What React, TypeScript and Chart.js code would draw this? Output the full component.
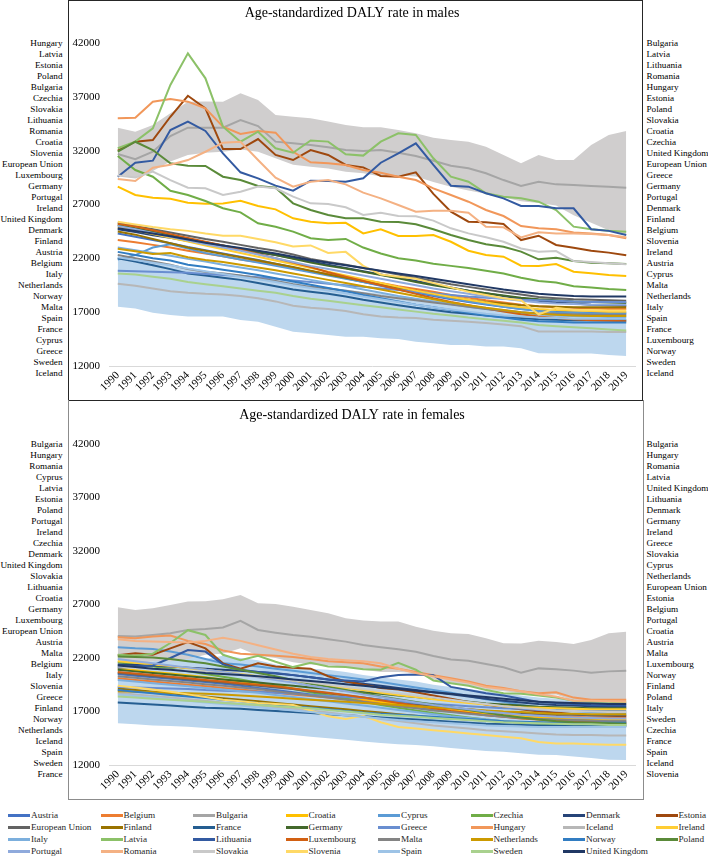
import { useEffect, useRef } from 'react';
import { Chart, registerables } from 'chart.js';

Chart.register(...registerables);

const serif = '"Liberation Serif", "Times New Roman", Times, serif';

const years = ['1990', '1991', '1992', '1993', '1994', '1995', '1996', '1997', '1998', '1999', '2000', '2001', '2002', '2003', '2004', '2005', '2006', '2007', '2008', '2009', '2010', '2011', '2012', '2013', '2014', '2015', '2016', '2017', '2018', '2019'];

const countries = ['Austria', 'Belgium', 'Bulgaria', 'Croatia', 'Cyprus', 'Czechia', 'Denmark', 'Estonia', 'European Union', 'Finland', 'France', 'Germany', 'Greece', 'Hungary', 'Iceland', 'Ireland', 'Italy', 'Latvia', 'Lithuania', 'Luxembourg', 'Malta', 'Netherlands', 'Norway', 'Poland', 'Portugal', 'Romania', 'Slovakia', 'Slovenia', 'Spain', 'Sweden', 'United Kingdom'];

const colors = ['#4472C4', '#ED7D31', '#A5A5A5', '#FFC000', '#5B9BD5', '#70AD47', '#264478', '#9E480E', '#636363', '#997300', '#255E91', '#43682B', '#698ED0', '#F1975A', '#B7B7B7', '#FFCD33', '#7CAFDD', '#8CC168', '#335AA1', '#D26012', '#848484', '#CC9A00', '#327DC2', '#5A8A39', '#8FAADC', '#F4B183', '#C9C9C9', '#FFD966', '#9DC3E6', '#A9D18E', '#203864'];

// males
const mAustria = [24300, 24000, 23700, 23400, 23050, 22750, 22450, 22150, 21850, 21500, 21150, 20800, 20500, 20150, 19800, 19450, 19100, 18800, 18500, 18200, 17950, 17700, 17500, 17300, 17150, 17050, 17000, 16950, 16950, 16950];
const mBelgium = [23700, 23500, 23250, 23000, 22700, 22450, 22200, 21900, 21650, 21400, 21100, 20800, 20550, 20300, 20000, 19700, 19400, 19150, 18900, 18600, 18350, 18100, 17900, 17700, 17550, 17450, 17400, 17350, 17300, 17300];
const mBulgaria = [31690, 31200, 31900, 33360, 34140, 34140, 34140, 34850, 34290, 32840, 32680, 32530, 32310, 32060, 31970, 32060, 31810, 31500, 31070, 30600, 30360, 29900, 29270, 28720, 29120, 28870, 28810, 28720, 28660, 28560];
const mCroatia = [28660, 27880, 27630, 27540, 27170, 27080, 27100, 27350, 26860, 26550, 25720, 25400, 25250, 25300, 24320, 24700, 24070, 24070, 24170, 23540, 22710, 22310, 22150, 21320, 21290, 21470, 20760, 20610, 20460, 20370];
const mCyprus = [21900, 22300, 23000, 23300, 22900, 22500, 22200, 21900, 21600, 21300, 21000, 20700, 20400, 20100, 19800, 19500, 19200, 18900, 18600, 18300, 18000, 17750, 17500, 17300, 17100, 17000, 16950, 16900, 16850, 16850];
const mCzechia = [31500, 30200, 29580, 28280, 27880, 27320, 26650, 26270, 25250, 24940, 24480, 23860, 23700, 23800, 23000, 22450, 22000, 21800, 21500, 21300, 21100, 20850, 20600, 20200, 19900, 19750, 19400, 19300, 19150, 19060];
const mDenmark = [24700, 24450, 24150, 23900, 23600, 23300, 23050, 22800, 22550, 22300, 22000, 21700, 21400, 21100, 20800, 20500, 20200, 19900, 19600, 19300, 19000, 18750, 18500, 18250, 18050, 17900, 17800, 17700, 17650, 17600];
const mEstonia = [32000, 32830, 32990, 35150, 37100, 35930, 32150, 32150, 33080, 31600, 31130, 32060, 31600, 30670, 30450, 29650, 29580, 29990, 27980, 26330, 25400, 25340, 25190, 23700, 24100, 23240, 22990, 22710, 22530, 22280];
const mEU = [25300, 25000, 24700, 24400, 24100, 23800, 23550, 23250, 22950, 22700, 22350, 21950, 21650, 21400, 21100, 20800, 20500, 20200, 19900, 19600, 19350, 19100, 18850, 18650, 18400, 18300, 18200, 18150, 18100, 18050];
const mFinland = [24500, 24200, 23800, 23400, 23000, 22700, 22400, 22100, 21800, 21500, 21200, 20850, 20500, 20200, 19900, 19600, 19300, 19000, 18700, 18400, 18150, 17950, 17800, 17650, 17550, 17500, 17450, 17450, 17450, 17450];
const mFrance = [22000, 21700, 21350, 21000, 20600, 20400, 20200, 20000, 19700, 19400, 19100, 18900, 18700, 18450, 18150, 17900, 17650, 17400, 17200, 17000, 16850, 16700, 16550, 16450, 16350, 16300, 16250, 16250, 16250, 16250];
const mGermany = [25100, 24800, 24500, 24150, 23800, 23500, 23200, 22900, 22600, 22300, 21950, 21600, 21300, 21050, 20750, 20450, 20150, 19800, 19500, 19250, 19000, 18750, 18550, 18350, 18200, 18100, 18000, 17950, 17900, 17850];
const mGreece = [20850, 20800, 20750, 20700, 20650, 20550, 20450, 20350, 20250, 20100, 19950, 19800, 19650, 19500, 19350, 19200, 19050, 18900, 18750, 18600, 18450, 18350, 18250, 18150, 18100, 18050, 18000, 17950, 17950, 17950];
const mHungary = [35000, 35060, 36550, 36800, 36550, 35930, 34230, 33550, 33830, 33670, 31900, 30920, 30820, 30670, 30200, 29950, 29580, 29270, 28500, 27880, 27260, 26490, 25930, 25000, 24790, 24700, 24390, 24300, 24170, 23860];
const mIceland = [19650, 19450, 19200, 18950, 18800, 18700, 18650, 18500, 18300, 18000, 17600, 17400, 17300, 17100, 16800, 16600, 16500, 16450, 16300, 16200, 16100, 16000, 15850, 15700, 15200, 15200, 15200, 15200, 15150, 15150];
const mIreland = [24900, 24600, 24250, 23900, 23550, 23200, 22850, 22500, 22150, 21800, 21450, 21100, 20750, 20400, 20050, 19700, 19350, 19000, 18700, 18400, 18150, 17900, 17650, 17450, 17300, 17200, 17150, 17100, 17050, 17050];
const mItaly = [23000, 22750, 22500, 22250, 21950, 21700, 21400, 21150, 20900, 20600, 20300, 20000, 19700, 19400, 19100, 18800, 18500, 18250, 18000, 17750, 17500, 17300, 17100, 16950, 16800, 16700, 16650, 16600, 16550, 16550];
const mLatvia = [32220, 32840, 34080, 38100, 41040, 38720, 34230, 32830, 33760, 32220, 31810, 32950, 32840, 31660, 31540, 32840, 33610, 33460, 31290, 29580, 29120, 28040, 27730, 27570, 27260, 26490, 24940, 24700, 24570, 24480];
const mLithuania = [29580, 30880, 31070, 33920, 34700, 33830, 31750, 29990, 29430, 28750, 28280, 29210, 29180, 29120, 29430, 30880, 31750, 32680, 30670, 28750, 28660, 28040, 27570, 26860, 26860, 26650, 26650, 24700, 24550, 24170];
const mLuxembourg = [25200, 24950, 24600, 24250, 23900, 23550, 23200, 22800, 22400, 22000, 21600, 21200, 20700, 20300, 19900, 19500, 19100, 18700, 18300, 17950, 17650, 17350, 17050, 16800, 16600, 16450, 16350, 16250, 16200, 16150];
const mMalta = [22300, 22000, 21700, 21400, 21000, 20750, 20600, 20400, 20150, 19900, 19600, 19350, 19200, 19000, 18750, 18500, 18300, 18100, 17900, 17700, 17500, 17300, 17150, 17000, 16900, 16850, 16800, 16750, 16750, 16750];
const mNetherlands = [22900, 22650, 22400, 22500, 22100, 21850, 21650, 21400, 21150, 20900, 20600, 20300, 20000, 19700, 19400, 19100, 18800, 18500, 18200, 17900, 17650, 17400, 17200, 17000, 16850, 16750, 16700, 16650, 16650, 16650];
const mNorway = [22600, 22300, 22000, 21800, 21400, 21200, 20950, 20700, 20450, 20150, 19850, 19550, 19250, 18950, 18600, 18300, 18000, 17700, 17450, 17200, 16950, 16700, 16500, 16300, 16150, 16100, 16050, 16050, 16050, 16050];
const mPoland = [31900, 32830, 32060, 30830, 30600, 30580, 29580, 29270, 28720, 28560, 27110, 26490, 26030, 25720, 25720, 25400, 25370, 25160, 24700, 24170, 23700, 23300, 23080, 22620, 21910, 22060, 21750, 21600, 21550, 21470];
const mPortugal = [25000, 24700, 24350, 24000, 23650, 23300, 23000, 22700, 22350, 22000, 21650, 21300, 21000, 20700, 20400, 20100, 19800, 19500, 19200, 18950, 18700, 18450, 18250, 18050, 17900, 17800, 17750, 17700, 17700, 17700];
const mRomania = [29370, 29180, 30420, 30700, 31130, 31900, 32740, 32830, 31130, 29490, 28660, 29120, 29270, 28870, 28100, 27570, 26950, 26330, 26420, 26420, 26240, 24940, 24880, 23950, 24420, 24300, 24300, 24250, 24170, 23950];
const mSlovakia = [29700, 29500, 30050, 29270, 28560, 28500, 27880, 28190, 28660, 28500, 27730, 27110, 27050, 26740, 26030, 26240, 25930, 25900, 25500, 24790, 24320, 23950, 23540, 22920, 22620, 22680, 21750, 21650, 21540, 21440];
const mSlovenia = [25400, 25150, 24900, 24700, 24550, 24300, 24100, 24100, 23800, 23500, 23100, 23200, 22500, 22600, 21300, 20500, 20300, 20100, 19700, 19300, 18900, 18600, 18300, 18100, 16800, 17400, 17200, 17200, 17150, 17150];
const mSpain = [22100, 21850, 21600, 21350, 21050, 20800, 20550, 20300, 20050, 19800, 19500, 19250, 19000, 18750, 18450, 18200, 17950, 17700, 17450, 17250, 17050, 16850, 16700, 16600, 16500, 16450, 16400, 16400, 16400, 16400];
const mSweden = [20600, 20500, 20300, 20100, 19800, 19600, 19400, 19200, 19000, 18800, 18500, 18250, 18050, 17850, 17650, 17450, 17250, 17050, 16850, 16700, 16500, 16350, 16200, 16050, 15800, 15700, 15600, 15500, 15400, 15300];
const mUK = [24800, 24550, 24300, 24050, 23750, 23450, 23200, 22950, 22700, 22450, 22150, 21850, 21600, 21350, 21100, 20850, 20600, 20350, 20100, 19850, 19600, 19350, 19100, 18900, 18700, 18600, 18500, 18450, 18450, 18450];

const maleGrayHigh = [34140, 33760, 34380, 35470, 36550, 36570, 36550, 37330, 36710, 35310, 35160, 35000, 34700, 34380, 34170, 34170, 33920, 33610, 33210, 32990, 32830, 32370, 31600, 30830, 31600, 31130, 31130, 32530, 33460, 33830];
const maleGrayLow = [29800, 29500, 30100, 31000, 31600, 31800, 31900, 32100, 31900, 31300, 30700, 30500, 30350, 30050, 29900, 29600, 29700, 29600, 29100, 28650, 28300, 28000, 27650, 27300, 27150, 26900, 26000, 25300, 24600, 24100];
const maleBlueHigh = [22200, 21900, 21600, 21300, 21000, 20800, 20700, 20500, 20300, 20100, 19800, 19500, 19300, 19100, 18900, 18700, 18500, 18300, 18100, 17900, 17700, 17500, 17300, 17100, 16800, 16700, 16600, 16500, 16400, 16300];
const maleBlueLow = [17510, 17350, 16950, 16740, 16590, 16590, 16590, 16270, 16120, 15650, 15190, 15040, 14880, 14720, 14720, 14570, 14500, 14260, 14110, 13950, 13950, 13800, 13800, 13640, 13180, 13150, 13150, 13150, 13020, 12930];

// females
const fAustria = [20500, 20350, 20200, 20050, 19900, 19750, 19600, 19400, 19200, 19000, 18800, 18600, 18400, 18200, 18000, 17800, 17600, 17400, 17200, 17000, 16850, 16700, 16550, 16450, 16350, 16300, 16250, 16200, 16150, 16150];
const fBelgium = [20100, 19950, 19800, 19650, 19500, 19350, 19200, 19050, 18900, 18750, 18600, 18450, 18300, 18150, 18000, 17850, 17700, 17550, 17400, 17250, 17100, 16950, 16800, 16700, 16600, 16550, 16500, 16450, 16450, 16450];
const fBulgaria = [24050, 24000, 24150, 24310, 24620, 24700, 24860, 25480, 24620, 24370, 24150, 23990, 23750, 23530, 23220, 23000, 22810, 22590, 22190, 21870, 21750, 21440, 21130, 20630, 21030, 20950, 20820, 20630, 20750, 20820];
const fCroatia = [21000, 20850, 20700, 20550, 20400, 20200, 20000, 19800, 19600, 19400, 19150, 18900, 18650, 18400, 18150, 17900, 17700, 17500, 17300, 17100, 16950, 16800, 16650, 16550, 16450, 16400, 16350, 16300, 16250, 16250];
const fCyprus = [23000, 22900, 22850, 22600, 22300, 21900, 21500, 21400, 21200, 21000, 20800, 20600, 20400, 20200, 20000, 19750, 19500, 19250, 19000, 18750, 18450, 18150, 17900, 17600, 17400, 17200, 17050, 16950, 16900, 16850];
const fCzechia = [21600, 21400, 21200, 21000, 20750, 20500, 20250, 20000, 19700, 19400, 19100, 18800, 18500, 18200, 17900, 17600, 17350, 17100, 16850, 16650, 16450, 16250, 16100, 15950, 15850, 15800, 15750, 15700, 15700, 15700];
const fDenmark = [21400, 21350, 21300, 21200, 21100, 21000, 20900, 20800, 20700, 20550, 20400, 20200, 20000, 19800, 19600, 19400, 19200, 19000, 18800, 18600, 18400, 18200, 18000, 17850, 17700, 17600, 17550, 17500, 17450, 17450];
const fEstonia = [22250, 22450, 22300, 22900, 23500, 22900, 21500, 21000, 21500, 21200, 21100, 21000, 20300, 19800, 19500, 19200, 19050, 18800, 18500, 18200, 17900, 17650, 17400, 17200, 17000, 16900, 16750, 16650, 16600, 16550];
const fEU = [20600, 20450, 20300, 20150, 20000, 19850, 19700, 19550, 19400, 19250, 19100, 18900, 18700, 18500, 18300, 18100, 17900, 17700, 17500, 17350, 17200, 17050, 16950, 16850, 16750, 16700, 16700, 16650, 16650, 16650];
const fFinland = [19150, 19000, 18850, 18700, 18550, 18400, 18250, 18100, 17950, 17800, 17650, 17500, 17350, 17200, 17050, 16900, 16750, 16600, 16450, 16350, 16250, 16150, 16050, 16000, 15950, 15950, 15900, 15900, 15900, 15900];
const fFrance = [17850, 17750, 17650, 17550, 17450, 17350, 17300, 17250, 17150, 17050, 16950, 16850, 16750, 16650, 16550, 16450, 16350, 16250, 16150, 16050, 15950, 15850, 15800, 15750, 15700, 15700, 15650, 15650, 15650, 15650];
const fGermany = [20900, 20750, 20600, 20450, 20300, 20150, 20000, 19850, 19700, 19550, 19400, 19250, 19100, 18950, 18800, 18650, 18500, 18350, 18200, 18050, 17900, 17750, 17650, 17550, 17450, 17400, 17350, 17300, 17300, 17300];
const fGreece = [19300, 19250, 19200, 19150, 19100, 19000, 18950, 18900, 18850, 18750, 18650, 18550, 18450, 18350, 18250, 18100, 17950, 17800, 17700, 17600, 17500, 17400, 17300, 17250, 17150, 17100, 17100, 17050, 17050, 17050];
const fHungary = [23950, 23850, 24000, 24100, 23600, 23300, 22700, 22400, 22300, 22200, 22100, 21900, 21700, 21600, 21500, 21200, 21000, 20700, 20400, 20100, 19800, 19400, 19200, 18900, 18700, 18800, 18300, 18100, 18100, 18100];
const fIceland = [18750, 18600, 18450, 18300, 18150, 18000, 17850, 17700, 17550, 17400, 17250, 17100, 16900, 16700, 16500, 16300, 16100, 15900, 15700, 15550, 15400, 15250, 15150, 15050, 14950, 14850, 14800, 14800, 14750, 14750];
const fIreland = [21700, 21550, 21400, 21250, 21050, 20900, 20700, 20500, 20300, 20100, 19850, 19600, 19400, 19200, 19000, 18750, 18550, 18350, 18150, 17950, 17800, 17650, 17500, 17400, 17350, 17300, 17250, 17200, 17200, 17200];
const fItaly = [19950, 19800, 19650, 19500, 19350, 19200, 19050, 18900, 18750, 18550, 18350, 18150, 17950, 17750, 17550, 17350, 17150, 16950, 16750, 16550, 16400, 16250, 16100, 16000, 15950, 15900, 15850, 15800, 15800, 15800];
const fLatvia = [22300, 22200, 22400, 23400, 24600, 24150, 22300, 21800, 22200, 21650, 21150, 21550, 21200, 21150, 20950, 20900, 21550, 20900, 19900, 19650, 19400, 19000, 18700, 18650, 18500, 18300, 18000, 17900, 17900, 17850];
const fLithuania = [21100, 21200, 21300, 22000, 22750, 22600, 21400, 20900, 20700, 20600, 20400, 20200, 20000, 19900, 19800, 20200, 20400, 20450, 20400, 19300, 19000, 18700, 18500, 18200, 17900, 17800, 17700, 17600, 17550, 17550];
const fLuxembourg = [20700, 20550, 20400, 20250, 20100, 19950, 19800, 19650, 19500, 19350, 19150, 18950, 18750, 18550, 18300, 18050, 17800, 17550, 17300, 17050, 16850, 16650, 16500, 16350, 16250, 16150, 16100, 16050, 16000, 16000];
const fMalta = [20300, 20150, 20000, 19850, 19700, 19550, 19400, 19250, 19100, 18900, 18700, 18500, 18300, 18100, 17900, 17700, 17500, 17300, 17100, 16950, 16800, 16650, 16500, 16400, 16300, 16250, 16200, 16150, 16100, 16100];
const fNetherlands = [18900, 18850, 18800, 18750, 18700, 18650, 18600, 18500, 18400, 18300, 18200, 18100, 18000, 17900, 17800, 17700, 17600, 17500, 17400, 17300, 17200, 17100, 17000, 16950, 16850, 16800, 16800, 16750, 16750, 16750];
const fNorway = [19000, 18850, 18700, 18550, 18400, 18250, 18100, 17950, 17800, 17650, 17500, 17350, 17200, 17050, 16900, 16800, 16700, 16600, 16500, 16400, 16300, 16200, 16100, 16050, 16000, 15950, 15950, 15950, 15950, 15950];
const fPoland = [22150, 22100, 22050, 21900, 21700, 21500, 21200, 20900, 20600, 20300, 19950, 19600, 19300, 19000, 18700, 18400, 18150, 17900, 17650, 17400, 17150, 16900, 16650, 16450, 16250, 16100, 16000, 15950, 15900, 15850];
const fPortugal = [21900, 21700, 21500, 21300, 21100, 20900, 20700, 20450, 20200, 19950, 19700, 19400, 19150, 18900, 18600, 18350, 18100, 17850, 17600, 17400, 17200, 17000, 16850, 16700, 16600, 16500, 16450, 16400, 16350, 16350];
const fRomania = [23750, 23600, 23550, 23500, 23450, 23600, 23900, 23600, 23200, 22800, 22400, 22100, 21900, 21800, 21700, 21500, 21000, 20600, 20300, 20000, 19700, 19300, 19100, 18900, 18600, 18400, 18000, 18000, 17950, 17900];
const fSlovakia = [21200, 21100, 21000, 20900, 20800, 20700, 20550, 20400, 20250, 20100, 19900, 19700, 19500, 19300, 19100, 18900, 18700, 18500, 18300, 18100, 17900, 17700, 17500, 17350, 17200, 17100, 17050, 17000, 16950, 16950];
const fSlovenia = [19400, 19250, 19050, 18850, 18600, 18350, 18100, 17950, 17800, 17700, 17600, 17100, 16550, 16300, 16600, 16000, 15550, 15400, 15250, 15100, 14950, 14800, 14650, 14500, 14150, 14000, 14000, 13950, 13900, 13900];
const fSpain = [18600, 18450, 18300, 18150, 18000, 17850, 17700, 17550, 17400, 17250, 17100, 16950, 16800, 16650, 16500, 16350, 16200, 16100, 16000, 15900, 15800, 15700, 15650, 15600, 15550, 15550, 15550, 15550, 15550, 15550];
const fSweden = [18400, 18300, 18200, 18100, 18000, 17900, 17800, 17700, 17600, 17500, 17400, 17300, 17150, 17000, 16850, 16700, 16600, 16500, 16400, 16300, 16200, 16100, 16000, 15950, 15900, 15850, 15800, 15800, 15750, 15750];
const fUK = [21300, 21150, 21000, 20900, 20750, 20600, 20500, 20400, 20300, 20150, 20000, 19850, 19700, 19550, 19400, 19250, 19100, 18950, 18800, 18650, 18500, 18350, 18200, 18050, 17900, 17850, 17800, 17750, 17700, 17700];

const femaleGrayHigh = [26740, 26490, 26640, 26960, 27270, 27300, 27490, 27890, 27110, 27050, 26800, 26490, 26180, 25710, 25500, 25400, 25400, 24930, 24550, 24310, 24250, 23840, 23370, 23350, 23620, 23500, 23310, 23680, 24310, 24460];
const femaleGrayLow = [21300, 21500, 21700, 21700, 21900, 22300, 22400, 22900, 22200, 22000, 21600, 21400, 21300, 21200, 20900, 20700, 20700, 20600, 20000, 19700, 19400, 19000, 18900, 18700, 18500, 18600, 18000, 18000, 18000, 18000];
const femaleBlueHigh = [21800, 21700, 21700, 21900, 22100, 21900, 22200, 22000, 21800, 21400, 21100, 21000, 20900, 20700, 20400, 20200, 20000, 19800, 19500, 19300, 19100, 18900, 18700, 18500, 18300, 18200, 18100, 18000, 17900, 17900];
const femaleBlueLow = [15900, 15800, 15700, 15650, 15580, 15450, 15350, 15250, 15110, 14950, 14800, 14650, 14490, 14350, 14200, 14050, 13950, 13870, 13750, 13600, 13450, 13300, 13240, 13100, 12950, 12930, 12800, 12650, 12500, 12470];

// rank lists printed beside each panel (first and last year)
const maleLeft = ['Hungary', 'Latvia', 'Estonia', 'Poland', 'Bulgaria', 'Czechia', 'Slovakia', 'Lithuania', 'Romania', 'Croatia', 'Slovenia', 'European Union', 'Luxembourg', 'Germany', 'Portugal', 'Ireland', 'United Kingdom', 'Denmark', 'Finland', 'Austria', 'Belgium', 'Italy', 'Netherlands', 'Norway', 'Malta', 'Spain', 'France', 'Cyprus', 'Greece', 'Sweden', 'Iceland'];
const maleRight = ['Bulgaria', 'Latvia', 'Lithuania', 'Romania', 'Hungary', 'Estonia', 'Poland', 'Slovakia', 'Croatia', 'Czechia', 'United Kingdom', 'European Union', 'Greece', 'Germany', 'Portugal', 'Denmark', 'Finland', 'Belgium', 'Slovenia', 'Ireland', 'Austria', 'Cyprus', 'Malta', 'Netherlands', 'Italy', 'Spain', 'France', 'Luxembourg', 'Norway', 'Sweden', 'Iceland'];
const femaleLeft = ['Bulgaria', 'Hungary', 'Romania', 'Cyprus', 'Latvia', 'Estonia', 'Poland', 'Portugal', 'Ireland', 'Czechia', 'Denmark', 'United Kingdom', 'Slovakia', 'Lithuania', 'Croatia', 'Germany', 'Luxembourg', 'European Union', 'Austria', 'Malta', 'Belgium', 'Italy', 'Slovenia', 'Greece', 'Finland', 'Norway', 'Netherlands', 'Iceland', 'Spain', 'Sweden', 'France'];
const femaleRight = ['Bulgaria', 'Hungary', 'Romania', 'Latvia', 'United Kingdom', 'Lithuania', 'Denmark', 'Germany', 'Ireland', 'Greece', 'Slovakia', 'Cyprus', 'Netherlands', 'European Union', 'Estonia', 'Belgium', 'Portugal', 'Croatia', 'Austria', 'Malta', 'Luxembourg', 'Norway', 'Finland', 'Poland', 'Italy', 'Sweden', 'Czechia', 'France', 'Spain', 'Iceland', 'Slovenia'];

const maleSeries = [mAustria, mBelgium, mBulgaria, mCroatia, mCyprus, mCzechia, mDenmark, mEstonia, mEU, mFinland, mFrance, mGermany, mGreece, mHungary, mIceland, mIreland, mItaly, mLatvia, mLithuania, mLuxembourg, mMalta, mNetherlands, mNorway, mPoland, mPortugal, mRomania, mSlovakia, mSlovenia, mSpain, mSweden, mUK];
const femaleSeries = [fAustria, fBelgium, fBulgaria, fCroatia, fCyprus, fCzechia, fDenmark, fEstonia, fEU, fFinland, fFrance, fGermany, fGreece, fHungary, fIceland, fIreland, fItaly, fLatvia, fLithuania, fLuxembourg, fMalta, fNetherlands, fNorway, fPoland, fPortugal, fRomania, fSlovakia, fSlovenia, fSpain, fSweden, fUK];

type PanelProps = {
  title: string;
  series: number[][];
  grayLow: number[];
  grayHigh: number[];
  blueLow: number[];
  blueHigh: number[];
  top: number;
  titleTop: number;
  titleBottom: number;
  axisHeight: number;
};

function Panel({ title, series, grayLow, grayHigh, blueLow, blueHigh, top, titleTop, titleBottom, axisHeight }: PanelProps) {
  const canvasRef = useRef<HTMLCanvasElement>(null);

  useEffect(() => {
    const ctx = canvasRef.current?.getContext('2d');
    if (!ctx) return;

    const band = (data: number[], color: string, fill: boolean | string) => ({
      data,
      borderWidth: 0,
      borderColor: 'rgba(0,0,0,0)',
      backgroundColor: color,
      pointRadius: 0,
      fill,
      order: 100,
    });

    const chart = new Chart(ctx, {
      type: 'line',
      data: {
        labels: years,
        datasets: [
          band(grayLow, 'rgba(0,0,0,0)', false),
          band(grayHigh, '#d0cece', '-1'),
          band(blueLow, 'rgba(0,0,0,0)', false),
          band(blueHigh, '#bdd7ee', '-1'),
          ...series.map((values, i) => ({
            label: countries[i],
            data: values,
            borderColor: colors[i],
            backgroundColor: colors[i],
            borderWidth: 2,
            pointRadius: 0,
            tension: 0,
            fill: false,
            order: series.length - i,
          })),
        ],
      },
      options: {
        responsive: true,
        maintainAspectRatio: false,
        animation: false,
        layout: { padding: { left: 0, right: 7, top: 0, bottom: 0 } },
        plugins: {
          legend: { display: false },
          tooltip: { enabled: false },
          title: {
            display: true,
            text: title,
            color: '#000',
            font: { family: serif, size: 14, weight: 'normal', lineHeight: 1.2 },
            padding: { top: titleTop, bottom: titleBottom },
          },
        },
        scales: {
          x: {
            offset: true,
            grid: { display: false, drawTicks: false },
            border: { display: true, color: '#d9d9d9', width: 1 },
            ticks: {
              autoSkip: false,
              minRotation: 45,
              maxRotation: 45,
              padding: 3,
              color: '#000',
              font: { family: serif, size: 11 },
            },
            afterFit: (scale) => {
              scale.height = axisHeight;
            },
          },
          y: {
            min: 12000,
            max: 42000,
            grid: { display: false, drawTicks: false },
            border: { display: false },
            ticks: {
              stepSize: 5000,
              padding: 9,
              color: '#000',
              font: { family: serif, size: 11 },
              callback: (value) => String(value),
            },
            afterFit: (scale) => {
              scale.width = 40;
            },
          },
        },
      },
    });

    return () => {
      chart.destroy();
    };
  }, []);

  return (
    <div style={{ position: 'absolute', left: 69, top, width: 573, height: 398 }}>
      <canvas ref={canvasRef}></canvas>
    </div>
  );
}

function SideLabels({ names, top, side }: { names: string[]; top: number; side: 'left' | 'right' }) {
  const pos = side === 'left' ? { left: 0, width: 62.5, textAlign: 'right' as const } : { left: 646.5, textAlign: 'left' as const };
  return (
    <div style={{ position: 'absolute', top: top - 5.5, fontSize: 9.2, lineHeight: '11px', whiteSpace: 'nowrap', color: '#000', ...pos }}>
      {names.map((n, i) => (
        <div key={i}>{n}</div>
      ))}
    </div>
  );
}

const legendCols = [8, 100.5, 193, 285.5, 378, 470.5, 563, 655.5];
const legendRows = [815, 827, 839, 851];

export default function App() {
  return (
    <div style={{ position: 'absolute', left: 0, top: 0, width: 708, height: 857, background: '#fff', fontFamily: serif, overflow: 'hidden' }}>
      <div style={{ position: 'absolute', left: 68, top: 0, width: 575, height: 401, border: '1px solid #262626', boxSizing: 'border-box' }} />
      <div style={{ position: 'absolute', left: 68, top: 400, width: 576, height: 400, borderLeft: '1.5px solid #8c8c8c', borderRight: '1.5px solid #8c8c8c', borderBottom: '1.5px solid #8c8c8c', boxSizing: 'border-box' }} />

      <Panel title="Age-standardized DALY rate in males" series={maleSeries} grayLow={maleGrayLow} grayHigh={maleGrayHigh} blueLow={maleBlueLow} blueHigh={maleBlueHigh} top={1} titleTop={3.6} titleBottom={21.6} axisHeight={33} />
      <Panel title="Age-standardized DALY rate in females" series={femaleSeries} grayLow={femaleGrayLow} grayHigh={femaleGrayHigh} blueLow={femaleBlueLow} blueHigh={femaleBlueHigh} top={401} titleTop={5.6} titleBottom={20.6} axisHeight={34} />

      <SideLabels names={maleLeft} top={43} side="left" />
      <SideLabels names={maleRight} top={43} side="right" />
      <SideLabels names={femaleLeft} top={444} side="left" />
      <SideLabels names={femaleRight} top={444} side="right" />

      {countries.map((name, i) => (
        <div
          key={name}
          style={{ position: 'absolute', left: legendCols[i % 8], top: legendRows[Math.floor(i / 8)] - 6, height: 12, display: 'flex', alignItems: 'center', fontSize: 9.2, color: '#262626', whiteSpace: 'nowrap' }}
        >
          <span style={{ display: 'inline-block', width: 22, height: 3, background: colors[i], marginRight: 1 }} />
          <span>{name}</span>
        </div>
      ))}
    </div>
  );
}
